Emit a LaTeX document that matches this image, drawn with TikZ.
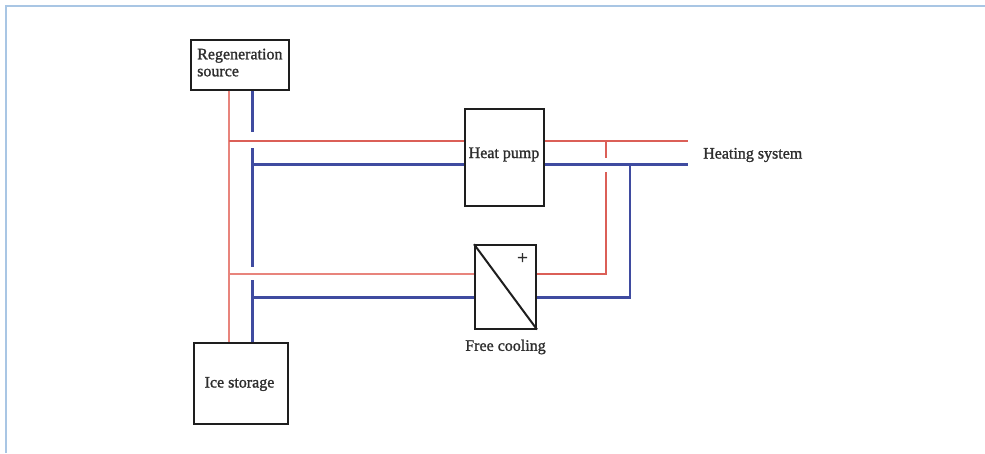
\documentclass[tikz,border=0pt]{standalone}
\usepackage{fontspec}
\setmainfont{Liberation Serif}[FakeBold=1.3]
\definecolor{framec}{HTML}{A9C6E4}
\definecolor{redc}{HTML}{DB5F57}
\definecolor{pinkc}{HTML}{E8847C}
\definecolor{bluec}{HTML}{3F4BA0}
\definecolor{boxc}{HTML}{1E1E1E}
\definecolor{textc}{HTML}{2E2E2E}
\tikzset{
  x=1pt,y=-1pt,
  unit/.style={draw=boxc,line width=2pt,inner sep=0pt,fill=white,text=textc,font=\fontsize{16}{17}\selectfont},
  lbl/.style={inner sep=0pt,text=textc,font=\fontsize{16}{17}\selectfont},
  hot/.style={draw=redc,line width=2pt},
  hotv/.style={draw=pinkc,line width=2pt},
  cold/.style={draw=bluec,line width=2.6pt},
  frameline/.style={draw=framec,line width=2pt}
}
\begin{document}
\begin{tikzpicture}
\useasboundingbox (0,0) rectangle (985,453);
\draw[frameline] (6,453) -- (6,6) -- (985,6);
\coordinate (rv) at (228.7,0);
\coordinate (bv) at (252.7,0);
\coordinate (rv2) at (605.7,0);
\coordinate (bv2) at (630,0);
\coordinate (hoty) at (0,140.5);
\coordinate (coldy) at (0,164.7);
\coordinate (hoty2) at (0,273.5);
\coordinate (coldy2) at (0,297.5);
\coordinate (hotend) at (688,140.5);
\coordinate (coldend) at (688,164.7);
\node[unit,minimum width=98.5pt,minimum height=50pt,anchor=north west] (regen) at (189.7,38.5) {};
\node[unit,minimum width=94pt,minimum height=81.5pt,anchor=north west] (ice) at (192.7,341.8) {};
\node[unit,minimum width=78.5pt,minimum height=97pt,anchor=north west] (hp) at (464.3,108.2) {};
\node[unit,minimum width=61pt,minimum height=83.3pt,anchor=north west] (fc) at (474,244.2) {};
\node[lbl] (icelbl) at (239.5,384) {Ice storage};
\node[lbl,align=left,anchor=north west,text width=92pt] (regenlbl) at (197,48.5) {Regeneration\\source};
\node[lbl] (hplbl) at (504,154.5) {Heat pump};
\node[lbl,anchor=west] (hslbl) at (703,155) {Heating system};
\node[lbl] (fclbl) at (505.5,347) {Free cooling};
\node[lbl,font=\fontsize{19}{19}\selectfont] (plus) at (522.5,258.5) {+};
\draw[boxc,line width=2pt] (fc.north west) -- (fc.south east);
\draw[hotv] (rv |- regen.south) -- (rv |- ice.north);
\coordinate (g1) at (0,132);
\coordinate (g2) at (0,148);
\coordinate (g3) at (0,267);
\coordinate (g4) at (0,280);
\draw[cold] (bv |- regen.south) -- (bv |- g1);
\draw[cold] (bv |- g2) -- (bv |- g3);
\draw[cold] (bv |- g4) -- (bv |- ice.north);
\draw[hot] (rv |- hoty) -- (hp.west |- hoty);
\draw[cold] (bv |- coldy) -- (hp.west |- coldy);
\draw[hotv] (rv |- hoty2) -- (fc.west |- hoty2);
\draw[cold] (bv |- coldy2) -- (fc.west |- coldy2);
\draw[hot] (hp.east |- hoty) -- (hotend);
\draw[cold] (hp.east |- coldy) -- (coldend);
\coordinate (g5) at (0,158);
\coordinate (g6) at (0,171.7);
\draw[hot] (rv2 |- hoty) -- (rv2 |- g5);
\draw[hot] (fc.east |- hoty2) -- (rv2 |- hoty2) -- (rv2 |- g6);
\draw[cold] (fc.east |- coldy2) -- (bv2 |- coldy2) -- (bv2 |- coldy);
\end{tikzpicture}
\end{document}
